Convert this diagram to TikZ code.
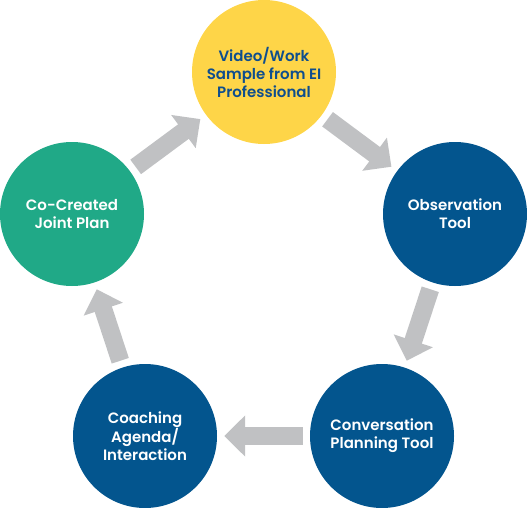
\documentclass[tikz,border=0pt]{standalone}
\usepackage{fontspec}
\setmainfont{Poppins}[BoldFont={Poppins SemiBold}]
\usetikzlibrary{arrows.meta}
\definecolor{azul}{HTML}{03558E}
\definecolor{amarillo}{HTML}{FED548}
\definecolor{verde}{HTML}{20A987}
\definecolor{gris}{HTML}{C0C1C3}
\definecolor{tinta}{HTML}{0E4E8E}
\tikzset{
  % Etapas del ciclo: círculos de color con texto centrado
  etapa/.style  = {circle, draw=none, minimum size=144pt, inner sep=0pt,
                   align=center, text=white,
                   font=\bfseries\fontsize{15}{18}\selectfont},
  % Flechas de bloque grises entre etapas
  flecha/.style = {line width=18pt, color=gris,
                   -{Triangle[length=21pt, width=40pt]},
                   shorten <=7pt, shorten >=7pt},
}

\begin{document}
\begin{tikzpicture}[x=1pt, y=-1pt]
  \useasboundingbox (0,0) rectangle (527,508);

  % ============================================================
  % Etapas (en píxeles de la figura original)
  % ============================================================
  \node[etapa, fill=amarillo, text=tinta] (video) at (264,72)
    {Video/Work\\Sample from EI\\Professional};
  \node[etapa, fill=azul]  (observacion)  at (455,214) {Observation\\Tool};
  \node[etapa, fill=azul]  (conversacion) at (382,436) {Conversation\\Planning Tool};
  \node[etapa, fill=azul]  (agenda)       at (145,436) {Coaching\\Agenda/\\Interaction};
  \node[etapa, fill=verde] (plan)         at (72,214)  {Co-Created\\Joint Plan};

  % ============================================================
  % Ciclo de flechas
  % ============================================================
  \draw[flecha] (video) -- (observacion);
  \draw[flecha] (observacion) -- (conversacion);
  \draw[flecha] (conversacion) -- (agenda);
  \draw[flecha] (agenda) -- (plan);
  \draw[flecha] (plan) -- (video);

\end{tikzpicture}
\end{document}
